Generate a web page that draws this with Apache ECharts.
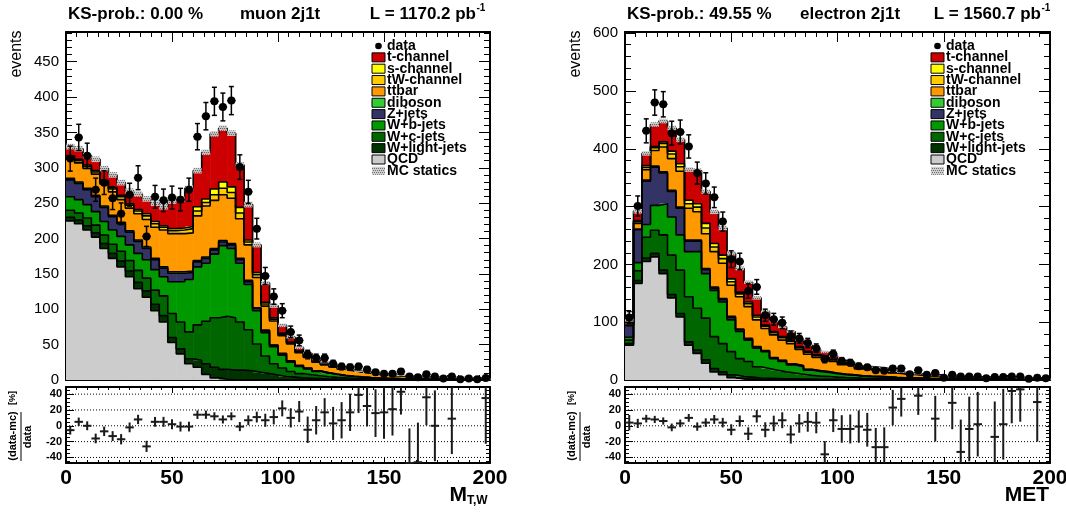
<!DOCTYPE html>
<html><head><meta charset="utf-8">
<script src="https://cdn.jsdelivr.net/npm/echarts@6/dist/echarts.min.js"></script>
<style>html,body{margin:0;padding:0;background:#fff}#c{width:1066px;height:512px}</style>
</head><body><div id="c"></div>
<script>
// ---------------- DATA ----------------
const BIN_WIDTH = 4;           // histogram bin width (x from 0 to 200, 50 bins)
const xTickLabels = [0, 50, 100, 150, 200];
const ratioTickLabels = [-40, -20, 0, 20, 40];

const stackNames  = ['QCD','W+light-jets','W+c-jets','W+b-jets','Z+jets','diboson','ttbar','tW-channel','s-channel','t-channel'];
const stackColors = ['#cccccc','#003300','#006600','#009900','#333366','#33cc33','#ff9900','#ffcc00','#ffff00','#cc0000'];
const legendOrder = ['t-channel','s-channel','tW-channel','ttbar','diboson','Z+jets','W+b-jets','W+c-jets','W+light-jets','QCD'];

// ---- muon 2j1t, M_T,W ----
const muTitle = ['KS-prob.: 0.00 %', 'muon 2j1t', 'L = 1170.2 pb', '-1'];
const muData  = [313,343,317,269,279,257,235,262,286,203, 259,254,258,255,269,344,373,394,386,395, 301,266,214,147,118,98,68,56,36,31, 31,23,19,18,19,15,11,9,9,12, 5,4,8,5,2,5,1,2,1,3];
const muRatio = [-5.5,5,0,-16,-7,-13,-17,-2,8,-26, 5,5,2,-1,-1,14,14,12,8,12, -1,7,11,7,11,22,10,18,-5,7, 17,3,7,17,39,25,16,17,21,43, -48,-46,36,0,null,9,null,null,null,35];
const muQCD    = [225,221,212,202,186,172,160,146,129,117, 98,82,53,37,23,18,8,3,1,0, 0,0,0,0,0,0,0,0,0,0, 0,0,0,0,0,0,0,0,0,0, 0,0,0,0,0,0,0,0,0,0];
const muWlight = [5,5,6,6,7,7,8,8,9,9, 9,9,7,7,7,10,15,15,14,14, 14,13,11,9,7,5,4,3,2.5,2, 1.5,1.2,1,0.8,0.6,0.5,0.4,0.3,0.3,0.2, 0.2,0.2,0.1,0.1,0.1,0.1,0.1,0.1,0.1,0.1];
const muWc     = [10,10,11,11,12,13,14,15,17,18, 20,28,34,38,38,50,60,70,75,74, 68,58,40,25,16,12,8,6,5,4, 3,2.5,2,1.6,1.3,1,0.8,0.7,0.6,0.5, 0.4,0.4,0.3,0.3,0.2,0.2,0.2,0.2,0.1,0.1];
const muWb     = [19,19,19,19,19,20,21,22,24,26, 29,27,45,57,74,82,82,90,100,98, 83,64,47,33,24,18,13,10,8,6, 5,4,3,2.5,2,1.7,1.4,1.1,1,0.8, 0.7,0.6,0.5,0.4,0.4,0.3,0.3,0.2,0.2,0.2];
const muZ      = [24,23,21,21,20,19,18,18,17,16, 14,12,12,12,10,7,7,6,5,5, 5,4,3,2.5,2,2,1.5,1.2,1,0.8, 0.6,0.5,0.4,0.3,0.3,0.2,0.2,0.2,0.1,0.1, 0.1,0.1,0.1,0.1,0.1,0.1,0.1,0.1,0.1,0.1];
const muDib    = [2,2,2,2,2,2,2,2,2,2, 2,2,2,2,2,2,2,2,2,2, 2,2,1,1,0.5,0.8,0.6,0.5,0.4,0.3, 0.3,0.2,0.2,0.2,0.2,0.1,0.1,0.1,0.1,0.1, 0.1,0.1,0.1,0.1,0.1,0.1,0.1,0.1,0.1,0.1];
const muTtbar  = [27,27,28,30,31,33,32,32,37,39, 44,52,54,54,54,63,72,68,65,64, 56,50,43,34,34,25,24,18,15,12, 11,10,8.5,7.5,6.5,6,5,4.5,4,3.8, 3.5,3.2,3,2.7,2.5,2.2,2,1.8,1.6,1.5];
const muTW     = [3,3,3,3,3,4,4,4,4,5, 5,4,4,5,6,7,5,8,9,8, 8,4,4,3,2.5,2,1.6,1.3,1.1,1, 0.9,0.8,0.7,0.6,0.5,0.5,0.4,0.4,0.3,0.3, 0.3,0.3,0.2,0.2,0.2,0.2,0.2,0.2,0.1,0.1];
const muS      = [2,2,2,2,2,2,2,2,2,3, 3,2,3,3,3,6,5,8,9,8, 8,3,3,2.5,2,1.5,1,0.8,0.6,0.5, 0.4,0.3,0.3,0.2,0.2,0.2,0.1,0.1,0.1,0.1, 0.1,0.1,0.1,0.1,0.1,0.1,0.1,0.1,0.1,0.1];
const muT      = [13,15,13,16,17,18,18,18,22,21, 26,27,39,41,54,51,66,78,76,76, 60,50,39,27,17,11,7,5,4,3, 2.5,2,1.6,1.3,1.1,0.9,0.8,0.7,0.6,0.5, 0.4,0.4,0.3,0.3,0.3,0.2,0.2,0.2,0.2,0.2];
const muMcErr  = [4,4,4,4,4,4,4,4,4,4, 4,4,4,4,4,4,4,4,4,4, 4,4,3.5,3,3,2.5,2.5,2,2,2, 1.5,1.5,1.5,1.2,1.2,1.2,1,1,1,1, 1,1,1,1,1,1,1,1,1,1];

// ---- electron 2j1t, MET ----
const elTitle = ['KS-prob.: 49.55 %', 'electron 2j1t', 'L = 1560.7 pb', '-1'];
const elData  = [108,301,431,480,477,427,429,404,358,340, 316,274,209,205,154,161,112,105,99,76, 72,64,55,36,45,33,30,24,22,17, 16,20,20,10,17,9,12,4,9,6, 6,6,3,5,5,6,6,2,4,3];
const elRatio = [4,3,9,8,6,-2,3,10,-1,4, 8,4,-5,6,-10,12,-5,3,7,-11, 3,5,4,-36,7,-4,-4,-1,-5,-27, -27,23,34,null,38,null,9,null,29,-33, -4,2,null,-14,2,44,46,null,30,null];
const elQCD    = [60,167,205,213,184,142,109,60,46,29, 14,9,4,2,1,0.5,0,0,0,0, 0,0,0,0,0,0,0,0,0,0, 0,0,0,0,0,0,0,0,0,0, 0,0,0,0,0,0,0,0,0,0];
const elWlight = [3,5,6,6,6,6,6,6,6,6, 6,5,5,4,4,3,3,2.5,2,2, 1.5,1.5,1.2,1,1,0.8,0.7,0.6,0.5,0.5, 0.4,0.4,0.3,0.3,0.3,0.2,0.2,0.2,0.2,0.1, 0.1,0.1,0.1,0.1,0.1,0.1,0.1,0.1,0.1,0.1];
const elWc     = [6,17,36,40,61,68,75,78,72,72, 55,49,40,31,27,19.5,17,14.5,12,10, 8.5,6.5,5.5,5,4,3.5,3,2.5,2.2,2, 1.8,1.5,1.3,1.2,1,0.9,0.8,0.7,0.6,0.5, 0.5,0.5,0.4,0.4,0.4,0.3,0.3,0.3,0.3,0.2];
const elWb     = [5,14,22,43,54,66,61,78,98,77, 80,72,55,47,37,32,29,20,18,14, 13,9,8,7,6,5,4.5,3.5,3.2,3, 2.8,2.2,1.9,1.7,1.5,1.3,1.1,1,0.9,0.8, 0.7,0.7,0.6,0.6,0.5,0.5,0.4,0.4,0.3,0.3];
const elZ      = [20,57,75,66,53,44,46,18,18,7, 4,4,4,3,2,2,1.5,1.5,1.5,1.5, 1.5,1,1,1,0.8,0.7,0.6,0.5,0.5,0.4, 0.4,0.3,0.3,0.3,0.2,0.2,0.2,0.1,0.1,0.1, 0.1,0.1,0.1,0.1,0.1,0.1,0.1,0,0,0];
const elDib    = [1,1,2,2,2,2,2,2,2,2, 2,2,2,1,1,1,0.5,0.5,0.5,0.5, 0.5,0.5,0.5,0.5,0.4,0.4,0.3,0.3,0.3,0.3, 0.2,0.2,0.2,0.2,0.2,0.1,0.1,0.1,0.1,0.1, 0.1,0.1,0.1,0.1,0.1,0,0,0,0,0];
const elTtbar  = [4,10,18,27,43,55,62,55,49,60, 61,61,54,56,55,46,38,39,35,35, 28,26,23,22,20,16,15,11.5,11.5,11, 10.3,7.5,6.5,6,5.3,4.5,5,3.8,3.5,3.3, 3.2,3,2.8,2.7,2.5,2.3,2.1,1.9,1.8,1.6];
const elTW     = [1,3,4,5,6,8,8,8,8,10, 8,8,6,5,5,5,4,4,4,4, 3,3,3,2.5,2.5,2,2,1.5,1.5,1.5, 1.4,1.1,1,0.9,0.8,0.7,0.6,0.5,0.5,0.4, 0.4,0.4,0.3,0.3,0.3,0.3,0.2,0.2,0.2,0.2];
const elS      = [1,2,3,2,3,5,5,6,6,8, 6,6,5,3,3,3,2,2,2,2, 2,2,1.5,1.5,1.3,1,1,0.8,0.7,0.6, 0.6,0.4,0.4,0.3,0.3,0.3,0.2,0.2,0.2,0.2, 0.1,0.1,0.1,0.1,0.1,0.1,0.1,0.1,0.1,0.1];
const elT      = [3,16,21,38,36,40,42,53,57,55, 55,47,44,41,34,30,23,18,17,15, 12,11,9,8,6,4.5,4,3,2.8,2.5, 2.3,1.6,1.4,1.2,1,0.8,0.7,0.6,0.5,0.5, 0.5,0.4,0.4,0.4,0.4,0.3,0.3,0.3,0.2,0.2];
const elMcErr  = [3,4,4,4,4,4,4,4,4,4, 4,4,3.5,3.5,3,3,3,2.5,2.5,2.5, 2,2,2,2,2,1.5,1.5,1.5,1.5,1.5, 1.2,1.2,1,1,1,1,1,1,1,1, 1,1,1,1,1,1,1,1,1,1];

// ---------------- LAYOUT / STYLE ----------------
const FONT = '"Liberation Sans", Arial, Helvetica, sans-serif';
const R_MIN = -47, R_MAX = 49;

const panels = [
  { title: muTitle, axisTitle: ['M', 'T,W'], data: muData, ratio: muRatio, mcErr: muMcErr,
    comps: [muQCD, muWlight, muWc, muWb, muZ, muDib, muTtbar, muTW, muS, muT],
    left: 66, width: 424, yMax: 492, yInterval: 50, xMain: 0, yMain: 0, xRatio: 2, yRatio: 2,
    titleX: [68, 240, 476], legendX: 372 },
  { title: elTitle, axisTitle: ['MET', ''], data: elData, ratio: elRatio, mcErr: elMcErr,
    comps: [elQCD, elWlight, elWc, elWb, elZ, elDib, elTtbar, elTW, elS, elT],
    left: 625, width: 425, yMax: 602, yInterval: 100, xMain: 4, yMain: 5, xRatio: 6, yRatio: 7,
    titleX: [627, 800, 1041], legendX: 931 }
];

function hatchCanvas() {
  const c = document.createElement('canvas'); c.width = 4; c.height = 4;
  const g = c.getContext('2d');
  g.fillStyle = '#cfcfcf'; g.fillRect(0, 0, 4, 4);
  g.fillStyle = '#707070';
  g.fillRect(0, 0, 1, 1); g.fillRect(2, 0, 1, 1); g.fillRect(1, 2, 1, 1); g.fillRect(3, 2, 1, 1);
  return c;
}
const HATCH = { image: hatchCanvas(), repeat: 'repeat' };

const grids = [];
const xAxes = [];
const yAxes = [];
const series = [];
const graphics = [];

const axLine = { show: true, onZero: false, lineStyle: { color: '#000', width: 2 } };
const tickStyle = { color: '#000', width: 1 };

function xAxisDef(gridIndex, position, major, minor, labels) {
  return {
    type: 'value', gridIndex, position, min: 0, max: 200, interval: 50,
    axisLine: axLine,
    axisTick: { show: true, inside: true, length: major, lineStyle: tickStyle },
    minorTick: { show: true, splitNumber: 10, length: minor, lineStyle: tickStyle },
    axisLabel: labels ? { show: true, fontFamily: FONT, fontWeight: 'bold', fontSize: 21, color: '#000', margin: 5,
      customValues: xTickLabels } : { show: false },
    splitLine: { show: false }, minorSplitLine: { show: false }
  };
}

panels.forEach((p, pi) => {
  const gMain = pi * 2, gRatio = pi * 2 + 1;
  grids.push({ left: p.left, top: 32, width: p.width, height: 348, outerBoundsMode: 'none' });
  grids.push({ left: p.left, top: 387, width: p.width, height: 76, outerBoundsMode: 'none' });

  xAxes.push(xAxisDef(gMain, 'bottom', 10, 5, false));
  xAxes.push(xAxisDef(gMain, 'top', 10, 5, false));
  xAxes.push(xAxisDef(gRatio, 'bottom', 6, 3, true));
  xAxes.push(xAxisDef(gRatio, 'top', 6, 3, false));

  const yMainDef = (pos, labels) => ({
    type: 'value', gridIndex: gMain, position: pos, min: 0, max: p.yMax, interval: p.yInterval,
    axisLine: axLine,
    axisTick: { show: true, inside: true, length: 11, lineStyle: tickStyle },
    minorTick: { show: true, splitNumber: 5, length: 6, lineStyle: tickStyle },
    axisLabel: labels ? { show: true, fontFamily: FONT, fontSize: 15, color: '#000', margin: 7, showMaxLabel: false } : { show: false },
    splitLine: { show: false }, minorSplitLine: { show: false }
  });
  yAxes.push(yMainDef('left', true));
  yAxes.push(yMainDef('right', false));

  const minorVals = [];
  for (let v = -45; v <= 45; v += 5) minorVals.push(v);
  yAxes.push({
    type: 'value', gridIndex: gRatio, position: 'left', min: R_MIN, max: R_MAX,
    axisLine: axLine,
    axisTick: { show: true, inside: true, length: 4, lineStyle: tickStyle, customValues: minorVals },
    axisLabel: { show: true, fontFamily: FONT, fontWeight: 'bold', fontSize: 11, color: '#000', margin: 4, customValues: ratioTickLabels },
    splitLine: { show: false }
  });
  yAxes.push({
    type: 'value', gridIndex: gRatio, position: 'left', min: R_MIN, max: R_MAX,
    axisLine: { show: false, onZero: false },
    axisTick: { show: true, inside: true, length: 8, lineStyle: tickStyle, customValues: ratioTickLabels },
    axisLabel: { show: false }, splitLine: { show: false }
  });
  yAxes.push({
    type: 'value', gridIndex: gRatio, position: 'right', min: R_MIN, max: R_MAX,
    axisLine: axLine,
    axisTick: { show: true, inside: true, length: 4, lineStyle: tickStyle, customValues: minorVals },
    axisLabel: { show: false }, splitLine: { show: false }
  });

  // ---- stacked histogram ----
  const nb = p.data.length;
  const cum = new Array(nb).fill(0);
  p.comps.forEach((vals, ci) => {
    const color = stackColors[ci];
    const items = vals.map((v, i) => { const lo = cum[i]; cum[i] += v; return [i * BIN_WIDTH, (i + 1) * BIN_WIDTH, lo, cum[i]]; });
    series.push({
      type: 'custom', xAxisIndex: p.xMain, yAxisIndex: p.yMain, silent: true, z: 2, animation: false,
      data: items,
      renderItem: (params, api) => {
        const x0 = api.value(0), x1 = api.value(1), y0 = api.value(2), y1 = api.value(3);
        if (!(y1 > y0)) return { type: 'group', children: [] };
        const a = api.coord([x0, y1]), b = api.coord([x1, y0]);
        return { type: 'rect', shape: { x: a[0], y: a[1], width: b[0] - a[0] + 0.6, height: b[1] - a[1] }, style: { fill: color } };
      }
    });
    const pts = [];
    items.forEach(it => { pts.push([it[0], it[3]]); pts.push([it[1], it[3]]); });
    series.push({
      type: 'line', xAxisIndex: p.xMain, yAxisIndex: p.yMain, data: pts, symbol: 'none', silent: true, z: 3,
      animation: false, lineStyle: { color: '#000', width: 1.6 }
    });
  });

  // ---- MC statistics band ----
  series.push({
    type: 'custom', xAxisIndex: p.xMain, yAxisIndex: p.yMain, silent: true, z: 4, animation: false,
    data: cum.map((t, i) => [i * BIN_WIDTH, (i + 1) * BIN_WIDTH, t - p.mcErr[i], t + p.mcErr[i]]),
    renderItem: (params, api) => {
      const a = api.coord([api.value(0), api.value(3)]), b = api.coord([api.value(1), Math.max(api.value(2), 0)]);
      return { type: 'rect', shape: { x: a[0], y: a[1], width: b[0] - a[0], height: b[1] - a[1] }, style: { fill: HATCH, opacity: 0.9 } };
    }
  });

  // ---- data points ----
  series.push({
    type: 'custom', xAxisIndex: p.xMain, yAxisIndex: p.yMain, silent: true, z: 6, animation: false,
    data: p.data.map((n, i) => [i * BIN_WIDTH + BIN_WIDTH / 2, n]),
    renderItem: (params, api) => {
      const x = api.value(0), n = api.value(1);
      if (!(n > 0)) return { type: 'group', children: [] };
      const e = Math.sqrt(n);
      const c = api.coord([x, n]), t = api.coord([x, n + e]), b = api.coord([x, Math.max(n - e, 0)]);
      const l = api.coord([x - BIN_WIDTH / 2, n]), r = api.coord([x + BIN_WIDTH / 2, n]);
      const st = { stroke: '#000', lineWidth: 1.5 };
      return { type: 'group', children: [
        { type: 'line', shape: { x1: c[0], y1: t[1], x2: c[0], y2: b[1] }, style: st },
        { type: 'line', shape: { x1: c[0] - 2.5, y1: t[1], x2: c[0] + 2.5, y2: t[1] }, style: st },
        { type: 'line', shape: { x1: c[0] - 2.5, y1: b[1], x2: c[0] + 2.5, y2: b[1] }, style: st },
        { type: 'line', shape: { x1: l[0], y1: c[1], x2: r[0], y2: c[1] }, style: st },
        { type: 'circle', shape: { cx: c[0], cy: c[1], r: 4 }, style: { fill: '#000' } }
      ] };
    }
  });

  // ---- ratio dotted lines ----
  ratioTickLabels.forEach(v => {
    series.push({
      type: 'line', xAxisIndex: p.xRatio, yAxisIndex: p.yRatio, data: [[0, v], [200, v]], symbol: 'none',
      silent: true, z: 2, animation: false, lineStyle: { color: '#000', width: 1, type: [1, 2] }
    });
  });

  // ---- ratio points ----
  const ratioItems = [];
  p.ratio.forEach((r, i) => { if (r !== null) ratioItems.push([i * BIN_WIDTH + BIN_WIDTH / 2, r, 100 / Math.sqrt(p.data[i])]); });
  series.push({
    type: 'custom', xAxisIndex: p.xRatio, yAxisIndex: p.yRatio, silent: true, z: 5, animation: false,
    data: ratioItems,
    renderItem: (params, api) => {
      const x = api.value(0), r = api.value(1), e = api.value(2);
      const clamp = v => Math.min(R_MAX, Math.max(R_MIN, v));
      const st = { stroke: '#1a1a1a', lineWidth: 2 };
      const t = api.coord([x, clamp(r + e)]), b = api.coord([x, clamp(r - e)]);
      const ch = [{ type: 'line', shape: { x1: t[0], y1: t[1], x2: b[0], y2: b[1] }, style: st }];
      const rc = clamp(r);
      const l = api.coord([x - BIN_WIDTH / 2, rc]), rr = api.coord([x + BIN_WIDTH / 2, rc]);
      ch.push({ type: 'line', shape: { x1: l[0], y1: l[1], x2: rr[0], y2: rr[1] }, style: st });
      return { type: 'group', children: ch };
    }
  });

  // ---- texts ----
  const txt = (text, x, y, o) => Object.assign({ type: 'text', x, y, z: 100, silent: true,
    style: Object.assign({ text, fontFamily: FONT, fontSize: 17, fontWeight: 'bold', fill: '#000', align: 'left', verticalAlign: 'middle' }, o || {}) });
  graphics.push(txt(p.title[0], p.titleX[0], 14));
  graphics.push(txt(p.title[1], p.titleX[1], 14));
  graphics.push(txt(p.title[2], p.titleX[2], 14, { align: 'right' }));
  graphics.push(txt(p.title[3], p.titleX[2] + 0.5, 8, { fontSize: 10 }));

  // y titles
  const off = p.left - 66;
  graphics.push(Object.assign(txt('events', 17 + off, 54, { fontWeight: 'normal', fontSize: 16, align: 'center' }), { rotation: Math.PI / 2 }));
  graphics.push(Object.assign(txt('(data-mc)', 13 + off, 436, { fontSize: 11, align: 'center' }), { rotation: Math.PI / 2 }));
  graphics.push(Object.assign(txt('data', 28 + off, 437, { fontSize: 11, align: 'center' }), { rotation: Math.PI / 2 }));
  graphics.push(Object.assign(txt('[%]', 13 + off, 398, { fontSize: 9, align: 'center' }), { rotation: Math.PI / 2 }));
  graphics.push({ type: 'line', z: 100, silent: true, shape: { x1: 21 + off, y1: 412, x2: 21 + off, y2: 461 }, style: { stroke: '#000', lineWidth: 1 } });

  // x title
  if (p.axisTitle[1]) {
    graphics.push(txt(p.axisTitle[0], 467, 495, { fontSize: 21, align: 'right' }));
    graphics.push(txt(p.axisTitle[1], 467, 501, { fontSize: 12 }));
  } else {
    graphics.push(txt(p.axisTitle[0], 1049, 495, { fontSize: 21, align: 'right' }));
  }

  // legend
  const lx = p.legendX, ly = 46, dy = 11.35;
  graphics.push({ type: 'circle', z: 100, silent: true, shape: { cx: lx + 6.5, cy: ly, r: 3.3 }, style: { fill: '#000' } });
  graphics.push(txt('data', lx + 15, ly, { fontSize: 14 }));
  legendOrder.forEach((name, j) => {
    const y = ly + (j + 1) * dy;
    const ci = stackNames.indexOf(name);
    graphics.push({ type: 'rect', z: 100, silent: true, shape: { x: lx, y: y - 4.5, width: 13, height: 9 }, style: { fill: stackColors[ci], stroke: '#000', lineWidth: 1 } });
    graphics.push(txt(name, lx + 15, y, { fontSize: 14 }));
  });
  const ys = ly + 11 * dy;
  graphics.push({ type: 'rect', z: 100, silent: true, shape: { x: lx, y: ys - 4, width: 13, height: 8 }, style: { fill: HATCH } });
  graphics.push(txt('MC statics', lx + 15, ys, { fontSize: 14 }));
});

const chart = echarts.init(document.getElementById('c'), null, { renderer: 'canvas' });
chart.setOption({
  backgroundColor: '#ffffff',
  animation: false,
  grid: grids, xAxis: xAxes, yAxis: yAxes, series: series, graphic: graphics
});
</script></body></html>
